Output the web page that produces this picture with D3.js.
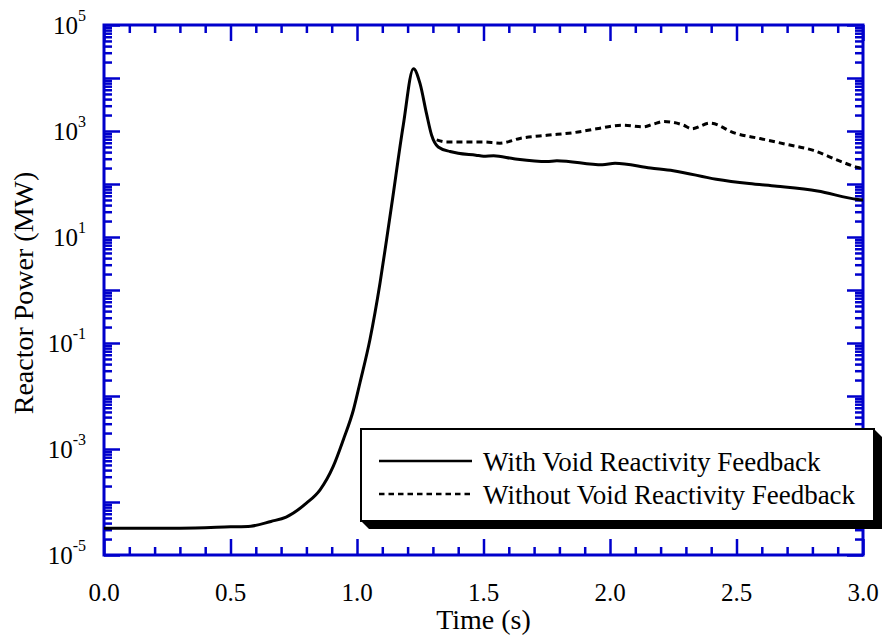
<!DOCTYPE html>
<html>
<head>
<meta charset="utf-8">
<script src="https://cdn.jsdelivr.net/npm/d3@7"></script>
<style>
  body { margin: 0; background: #fff; }
  svg { display: block; }
  text { font-family: "Liberation Serif", "Times New Roman", serif; fill: #000; }
</style>
</head>
<body>
<div id="chart"></div>
<script>
var width = 885, height = 638
var margin = {top: 25, right: 22, bottom: 83, left: 104}

// with void reactivity feedback (time s, power MW)
var withTime = [0, 0.3, 0.5, 0.58, 0.66, 0.72, 0.8, 0.854, 0.906, 0.946, 0.986, 1.012, 1.051, 1.091, 1.117, 1.137, 1.183, 1.223, 1.249, 1.275, 1.295, 1.321, 1.368, 1.40, 1.47, 1.50, 1.54, 1.62, 1.75, 1.79, 1.97, 2.02, 2.16, 2.25, 2.42, 2.55, 2.66, 2.82, 2.98, 3.0]
var withPower = [3.2e-5, 3.2e-5, 3.4e-5, 3.5e-5, 4.3e-5, 5.2e-5, 9.5e-5, 1.7e-4, 4.7e-4, 1.5e-3, 5.5e-3, 0.018, 0.115, 1.35, 9, 40, 1300, 15000, 7900, 2100, 830, 500, 410, 380, 350, 335, 340, 300, 265, 275, 230, 245, 200, 178, 123, 102, 91, 74, 51, 50]

// without void reactivity feedback
var withoutTime = [1.315, 1.354, 1.50, 1.565, 1.644, 1.75, 1.855, 1.947, 2.053, 2.132, 2.171, 2.211, 2.29, 2.323, 2.395, 2.494, 2.593, 2.698, 2.804, 2.909, 2.98, 3.0]
var withoutPower = [680, 620, 620, 590, 725, 830, 930, 1100, 1290, 1200, 1350, 1510, 1290, 1100, 1410, 910, 720, 560, 430, 270, 205, 195]

var xMajor = [0, 0.5, 1.0, 1.5, 2.0, 2.5, 3.0]
var xLabels = ["0.0", "0.5", "1.0", "1.5", "2.0", "2.5", "3.0"]
var yMajor = [1e-5, 1e-4, 1e-3, 1e-2, 1e-1, 1, 10, 100, 1e3, 1e4, 1e5]
var yLabelExp = ["-5", "-3", "-1", "1", "3", "5"]

var legendNames = ["With Void Reactivity Feedback", "Without Void Reactivity Feedback"]

var blue = "#0000cc"

var svg = d3.select("#chart").append("svg")
  .attr("width", width)
  .attr("height", height)

var x = d3.scaleLinear().domain([0, 3]).range([margin.left, width - margin.right])
var y = d3.scaleLog().domain([1e-5, 1e5]).range([height - margin.bottom, margin.top])

// minor ticks
var xMinor = d3.range(0, 31).map(function(i) { return i / 10 }).filter(function(v) { return Math.abs(v * 2 - Math.round(v * 2)) > 1e-6 })
var yMinor = []
for (var e = -5; e < 5; e++) {
  for (var m = 2; m <= 9; m++) yMinor.push(m * Math.pow(10, e))
}

function styleAxis(g) {
  g.select(".domain").remove()
  g.selectAll(".tick line").attr("stroke", blue).attr("stroke-width", 2.5)
  g.selectAll(".tick text").remove()
}

var x0 = x(0), x1 = x(3), y0 = y(1e-5), y1 = y(1e5)

svg.append("g").attr("transform", "translate(0," + y0 + ")")
  .call(d3.axisBottom(x).tickValues(xMajor).tickSize(-16)).call(styleAxis)
svg.append("g").attr("transform", "translate(0," + y0 + ")")
  .call(d3.axisBottom(x).tickValues(xMinor).tickSize(-8)).call(styleAxis)
svg.append("g").attr("transform", "translate(0," + y1 + ")")
  .call(d3.axisTop(x).tickValues(xMajor).tickSize(-16)).call(styleAxis)
svg.append("g").attr("transform", "translate(0," + y1 + ")")
  .call(d3.axisTop(x).tickValues(xMinor).tickSize(-8)).call(styleAxis)

svg.append("g").attr("transform", "translate(" + x0 + ",0)")
  .call(d3.axisLeft(y).tickValues(yMajor).tickSize(-16)).call(styleAxis)
svg.append("g").attr("transform", "translate(" + x0 + ",0)")
  .call(d3.axisLeft(y).tickValues(yMinor).tickSize(-8)).call(styleAxis)
svg.append("g").attr("transform", "translate(" + x1 + ",0)")
  .call(d3.axisRight(y).tickValues(yMajor).tickSize(-16)).call(styleAxis)
svg.append("g").attr("transform", "translate(" + x1 + ",0)")
  .call(d3.axisRight(y).tickValues(yMinor).tickSize(-8)).call(styleAxis)

// frame
svg.append("rect")
  .attr("x", x0).attr("y", y1)
  .attr("width", x1 - x0).attr("height", y0 - y1)
  .attr("fill", "none").attr("stroke", blue).attr("stroke-width", 3)

// tick labels
svg.selectAll(".xlab").data(xMajor).enter().append("text")
  .attr("x", function(d) { return x(d) })
  .attr("y", y0 + 46)
  .attr("text-anchor", "middle")
  .style("font-size", "25px")
  .text(function(d, i) { return xLabels[i] })

var ylab = svg.selectAll(".ylab").data(yLabelExp).enter().append("text")
  .attr("x", x0 - 18)
  .attr("y", function(d) { return y(Math.pow(10, +d)) + 9 })
  .attr("text-anchor", "end")
  .style("font-size", "25px")
ylab.append("tspan").text("10")
ylab.append("tspan").attr("dy", -13).style("font-size", "16px").text(function(d) { return d })

// axis titles
svg.append("text")
  .attr("x", (x0 + x1) / 2).attr("y", 629)
  .attr("text-anchor", "middle")
  .style("font-size", "28px")
  .text("Time (s)")

svg.append("text")
  .attr("transform", "translate(33," + ((y0 + y1) / 2 + 3) + ") rotate(-90)")
  .attr("text-anchor", "middle")
  .style("font-size", "28px")
  .text("Reactor Power (MW)")

// curves
var line = d3.line()
  .x(function(d) { return x(d[0]) })
  .y(function(d) { return y(d[1]) })
  .curve(d3.curveMonotoneX)

var withData = withTime.map(function(t, i) { return [t, withPower[i]] })
var withoutData = withoutTime.map(function(t, i) { return [t, withoutPower[i]] })

svg.append("path").datum(withoutData)
  .attr("d", line)
  .attr("fill", "none").attr("stroke", "#000").attr("stroke-width", 3)
  .attr("stroke-dasharray", "6,4")

svg.append("path").datum(withData)
  .attr("d", line)
  .attr("fill", "none").attr("stroke", "#000").attr("stroke-width", 3)

// legend
var lx0 = 361, lx1 = 874, ly0 = 429, ly1 = 521, sh = 8
var legend = svg.append("g")
legend.append("polygon")
  .attr("points", [[lx1, ly0], [lx1 + sh, ly0 + sh], [lx1 + sh, ly1 + sh], [lx0 + sh, ly1 + sh], [lx0, ly1]].join(" "))
  .attr("fill", "#000")
legend.append("rect")
  .attr("x", lx0).attr("y", ly0)
  .attr("width", lx1 - lx0).attr("height", ly1 - ly0)
  .attr("fill", "#fff").attr("stroke", "#000").attr("stroke-width", 2)

var item = legend.selectAll(".item").data(legendNames).enter().append("g")
  .attr("transform", function(d, i) { return "translate(0," + (461 + i * 33) + ")" })
item.append("line")
  .attr("x1", 379).attr("x2", 472)
  .attr("stroke", "#000").attr("stroke-width", 2.5)
  .attr("stroke-dasharray", function(d, i) { return i ? "5.5,4" : null })
item.append("text")
  .attr("x", 483).attr("y", 10)
  .style("font-size", "27px")
  .text(function(d) { return d })
</script>
</body>
</html>
